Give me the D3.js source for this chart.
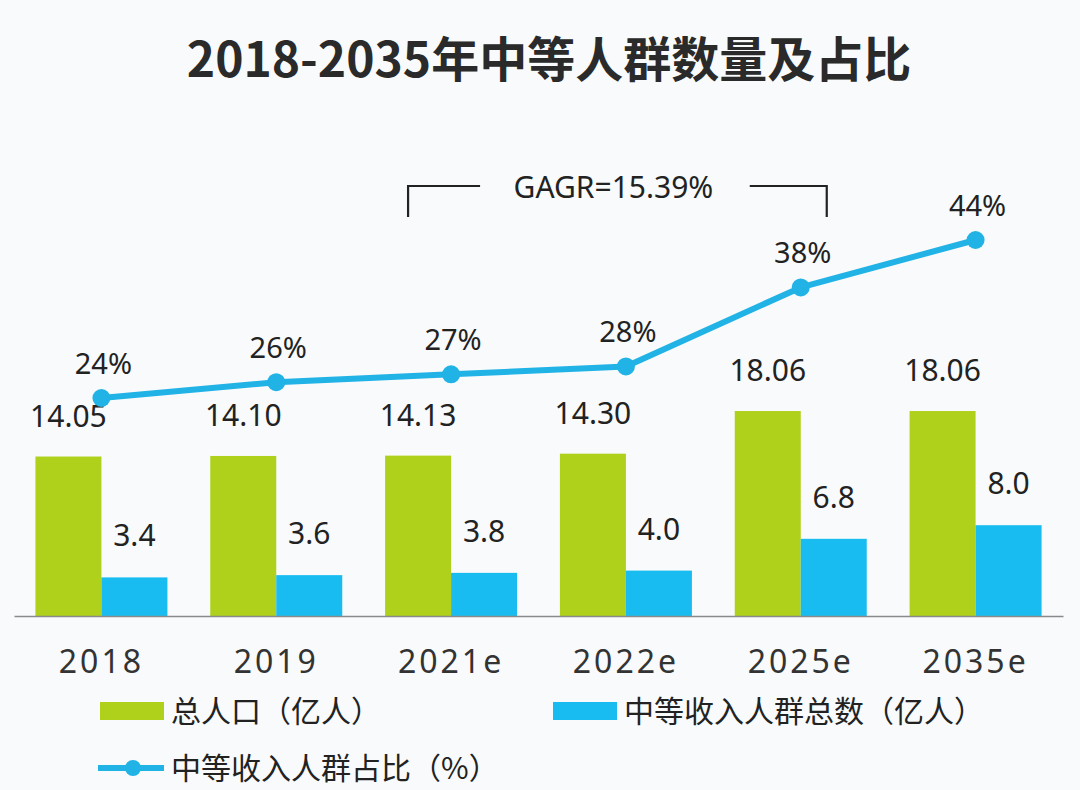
<!DOCTYPE html>
<html>
<head>
<meta charset="utf-8">
<script src="https://cdn.jsdelivr.net/npm/d3@7"></script>
<style>
  body { margin: 0; background: #f8fafb; }
  svg { display: block; }
</style>
</head>
<body>
<div id="chart"></div>
<script>
const categories = ['2018', '2019', '2021e', '2022e', '2025e', '2035e'];
const totalPopulation = [14.05, 14.10, 14.13, 14.30, 18.06, 18.06];
const middleIncome = [3.4, 3.6, 3.8, 4.0, 6.8, 8.0];
const middleShare = [24, 26, 27, 28, 38, 44];
const totalLabels = ['14.05', '14.10', '14.13', '14.30', '18.06', '18.06'];
const middleLabels = ['3.4', '3.6', '3.8', '4.0', '6.8', '8.0'];
const seriesNames = ['总人口（亿人）', '中等收入人群总数（亿人）', '中等收入人群占比（%）'];
const title = '2018-2035年中等人群数量及占比';
const cagrText = 'GAGR=15.39%';

const width = 1080;
const height = 790;

const dim = {
  left: 14,
  right: 1063,
  baseline: 616,
  barTop: 389,
  pctZero: 587.6,
  pctTop: 192.6,
};

const colours = {
  green: '#afd11b',
  blue: '#18bcf0',
  line: '#21b2e6',
  text: '#222',
};

const numFont = '"Noto Sans", "Open Sans", sans-serif';
const cjkFont = '"Noto Sans CJK SC", "Noto Sans", sans-serif';

const svg = d3.select('#chart').append('svg')
  .attr('width', width)
  .attr('height', height);

svg.append('rect')
  .attr('width', width)
  .attr('height', height)
  .style('fill', '#f8fafb');

// scales
const x0 = d3.scaleBand()
  .domain(categories)
  .range([dim.left, dim.right])
  .paddingInner(0.245)
  .paddingOuter(0.1225);

const x1 = d3.scaleBand()
  .domain(['total', 'middle'])
  .range([0, x0.bandwidth()]);

const y = d3.scaleLinear()
  .domain([0, 20])
  .range([dim.baseline, dim.barTop]);

const yPct = d3.scaleLinear()
  .domain([0, 50])
  .range([dim.pctZero, dim.pctTop]);

const centre = c => x0(c) + x0.bandwidth() / 2;

// title
svg.append('text')
  .attr('x', 549)
  .attr('y', 77)
  .attr('text-anchor', 'middle')
  .style('font-family', cjkFont)
  .style('font-weight', 700)
  .style('font-size', '48px')
  .style('fill', '#2a2a2a')
  .text(title);

createBars();
createXAxis();
createLine();
createCagr();
createLegend();

function createBars() {
  const groups = svg.selectAll('g.period')
    .data(categories)
    .enter().append('g')
    .attr('class', 'period')
    .attr('transform', c => `translate(${x0(c)}, 0)`);

  groups.append('rect')
    .attr('x', x1('total'))
    .attr('width', x1.bandwidth())
    .attr('y', (c, i) => y(totalPopulation[i]))
    .attr('height', (c, i) => y(0) - y(totalPopulation[i]))
    .style('fill', colours.green);

  groups.append('rect')
    .attr('x', x1('middle'))
    .attr('width', x1.bandwidth())
    .attr('y', (c, i) => y(middleIncome[i]))
    .attr('height', (c, i) => y(0) - y(middleIncome[i]))
    .style('fill', colours.blue);

  groups.append('text')
    .attr('x', x1('total') + x1.bandwidth() / 2)
    .attr('y', (c, i) => y(totalPopulation[i]) - 30)
    .attr('text-anchor', 'middle')
    .style('font-family', numFont)
    .style('font-size', '30px')
    .style('fill', colours.text)
    .text((c, i) => totalLabels[i]);

  groups.append('text')
    .attr('x', x1('middle') + x1.bandwidth() / 2)
    .attr('y', (c, i) => y(middleIncome[i]) - 31)
    .attr('text-anchor', 'middle')
    .style('font-family', numFont)
    .style('font-size', '30px')
    .style('fill', colours.text)
    .text((c, i) => middleLabels[i]);
}

function createXAxis() {
  const axis = svg.append('g')
    .attr('transform', `translate(0, ${dim.baseline})`)
    .call(d3.axisBottom(x0).tickSize(0).tickPadding(34));

  axis.select('.domain')
    .attr('stroke', '#8a8a8a')
    .attr('stroke-width', 1.5);

  axis.selectAll('text')
    .style('font-family', numFont)
    .style('font-size', '32px')
    .style('letter-spacing', '3px')
    .style('fill', '#333');
}

function createLine() {
  const points = categories.map((c, i) => [centre(c), yPct(middleShare[i])]);

  svg.append('path')
    .datum(points)
    .attr('d', d3.line())
    .style('fill', 'none')
    .style('stroke', colours.line)
    .style('stroke-width', 6)
    .style('stroke-linejoin', 'round');

  svg.selectAll('circle.pt')
    .data(points)
    .enter().append('circle')
    .attr('class', 'pt')
    .attr('cx', d => d[0])
    .attr('cy', d => d[1])
    .attr('r', 9)
    .style('fill', colours.line);

  svg.selectAll('text.pct')
    .data(points)
    .enter().append('text')
    .attr('class', 'pct')
    .attr('x', d => d[0] + 2)
    .attr('y', d => d[1] - 24)
    .attr('text-anchor', 'middle')
    .style('font-family', numFont)
    .style('font-size', '29px')
    .style('fill', colours.text)
    .text((d, i) => `${middleShare[i]}%`);
}

function createCagr() {
  // bracket from 2021e to 2025e
  const lx = centre('2021e') - 43;
  const rx = centre('2025e') + 26;
  const top = 186;
  const bottom = 217;

  const bracket = svg.append('g')
    .style('fill', 'none')
    .style('stroke', '#222')
    .style('stroke-width', 2.2);

  bracket.append('path')
    .attr('d', `M${lx},${bottom}V${top}H${lx + 72}`);
  bracket.append('path')
    .attr('d', `M${rx - 77},${top}H${rx}V${bottom}`);

  svg.append('text')
    .attr('x', (lx + rx) / 2 - 4)
    .attr('y', 198)
    .attr('text-anchor', 'middle')
    .style('font-family', numFont)
    .style('font-size', '30px')
    .style('fill', colours.text)
    .text(cagrText);
}

function createLegend() {
  const items = [
    { name: seriesNames[0], colour: colours.green, type: 'rect', x: 100, y: 711 },
    { name: seriesNames[1], colour: colours.blue, type: 'rect', x: 553, y: 711 },
    { name: seriesNames[2], colour: colours.line, type: 'line', x: 100, y: 768 },
  ];

  const legend = svg.selectAll('g.legend')
    .data(items)
    .enter().append('g')
    .attr('class', 'legend')
    .attr('transform', d => `translate(${d.x}, ${d.y})`);

  legend.filter(d => d.type === 'rect')
    .append('rect')
    .attr('y', -9)
    .attr('width', 64)
    .attr('height', 18)
    .style('fill', d => d.colour);

  const lineItem = legend.filter(d => d.type === 'line');
  lineItem.append('line')
    .attr('x1', -2)
    .attr('x2', 64)
    .style('stroke', d => d.colour)
    .style('stroke-width', 6);
  lineItem.append('circle')
    .attr('cx', 33)
    .attr('r', 8)
    .style('fill', d => d.colour);

  legend.append('text')
    .attr('x', 71)
    .attr('dy', '0.35em')
    .style('font-family', cjkFont)
    .style('font-size', '30px')
    .style('fill', colours.text)
    .text(d => d.name);
}
</script>
</body>
</html>
